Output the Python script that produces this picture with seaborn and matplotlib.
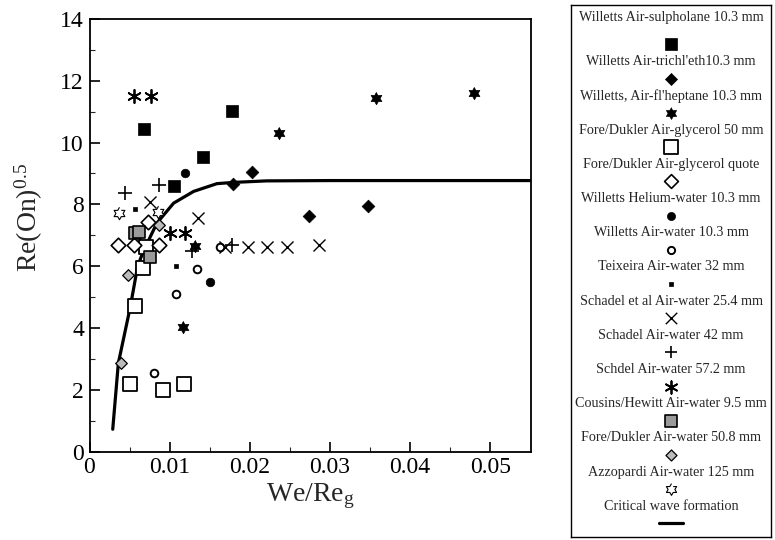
import matplotlib
matplotlib.use("Agg")
import matplotlib.pyplot as plt
import seaborn as sns
import pandas as pd
import numpy as np

# ---------------- data ----------------
sulph_x = [0.0068, 0.0106, 0.0142, 0.0178]
sulph_y = [10.44, 8.58, 9.52, 11.02]

trich_x = [0.0179, 0.0203, 0.0274, 0.0348]
trich_y = [8.67, 9.06, 7.62, 7.95]

hept_x = [0.0117, 0.0132, 0.0236, 0.0357, 0.0480]
hept_y = [4.04, 6.65, 10.31, 11.45, 11.60]

glyc_x = [0.0051, 0.0092, 0.0118, 0.0057, 0.0067, 0.0071]
glyc_y = [2.18, 2.00, 2.18, 4.71, 5.93, 6.63]

glycq_x = [0.0036, 0.0055, 0.0073, 0.0087]
glycq_y = [6.68, 6.69, 7.44, 6.68]

helium_x = [0.0119, 0.0150]
helium_y = [9.01, 5.50]

airw_x = [0.0081, 0.0108, 0.0134, 0.0163]
airw_y = [2.53, 5.10, 5.90, 6.63]

teix_x = [0.0057, 0.0108]
teix_y = [7.85, 6.01]

sch25_x = [0.0076, 0.0135, 0.0169, 0.0198, 0.0221, 0.0246, 0.0286]
sch25_y = [8.09, 7.55, 6.62, 6.61, 6.61, 6.61, 6.69]

sch42_x = [0.0044, 0.0087, 0.0128, 0.0178]
sch42_y = [8.38, 8.64, 6.50, 6.69]

sch57_x = [0.0056, 0.0077, 0.0100, 0.0119]
sch57_y = [11.52, 11.52, 7.07, 7.07]

cous_x = [0.0057, 0.0062, 0.0076]
cous_y = [7.07, 7.10, 6.31]

fdw_x = [0.0039, 0.0048, 0.0087]
fdw_y = [2.86, 5.72, 7.34]

azz_x = [0.0037, 0.0086]
azz_y = [7.72, 7.75]

crit_x = [0.0029, 0.0036, 0.0051, 0.0060, 0.0067, 0.0084, 0.0105, 0.0130,
          0.0159, 0.0179, 0.0221, 0.0300, 0.0400, 0.0551]
crit_y = [0.72, 2.86, 4.69, 5.99, 6.47, 7.39, 8.04, 8.42,
          8.67, 8.71, 8.76, 8.77, 8.77, 8.77]

labels = [
    "Willetts Air-sulpholane 10.3 mm",
    "Willetts Air-trichl'eth10.3 mm",
    "Willetts, Air-fl'heptane 10.3 mm",
    "Fore/Dukler Air-glycerol 50 mm",
    "Fore/Dukler Air-glycerol quote",
    "Willetts Helium-water 10.3 mm",
    "Willetts Air-water 10.3 mm",
    "Teixeira Air-water 32 mm",
    "Schadel et al Air-water 25.4 mm",
    "Schadel Air-water 42 mm",
    "Schdel Air-water 57.2 mm",
    "Cousins/Hewitt Air-water 9.5 mm",
    "Fore/Dukler Air-water 50.8 mm",
    "Azzopardi Air-water 125 mm",
    "Critical wave formation",
]

series = [
    (sulph_x, sulph_y), (trich_x, trich_y), (hept_x, hept_y), (glyc_x, glyc_y),
    (glycq_x, glycq_y), (helium_x, helium_y), (airw_x, airw_y), (teix_x, teix_y),
    (sch25_x, sch25_y), (sch42_x, sch42_y), (sch57_x, sch57_y), (cous_x, cous_y),
    (fdw_x, fdw_y), (azz_x, azz_y),
]

# Star of David marker (two overlapping triangles)
_a = np.deg2rad(np.arange(0, 360, 30) + 90)
_r = np.where(np.arange(12) % 2 == 0, 1.0, 0.577)
hexagram = list(zip(_r * np.cos(_a), _r * np.sin(_a)))

# marker styles: (marker, size, facecolor, edgecolor, linewidth)
styles = [
    ("s", 85, "black", "black", 0.5),
    ("D", 42, "black", "black", 0.5),
    (hexagram, 80, "black", "black", 0.5),
    ("s", 110, "white", "black", 1.3),
    ("D", 55, "white", "black", 1.2),
    ("o", 38, "black", "black", 0.5),
    ("o", 30, "white", "black", 1.4),
    ("s", 10, "black", "black", 0.5),
    ("x", 75, "black", "black", 1.0),
    ("+", 95, "black", "black", 1.2),
    ((6, 2, 0), 90, "black", "black", 1.3),
    ("s", 75, "#9a9a9a", "black", 1.2),
    ("D", 35, "#bbbbbb", "black", 0.9),
    (hexagram, 80, "white", "black", 0.8),
]

# ---------------- style ----------------
sns.set_theme(style="ticks")
plt.rcParams["font.family"] = ["Liberation Serif", "DejaVu Serif"]
plt.rcParams["mathtext.fontset"] = "custom"
plt.rcParams["mathtext.rm"] = "Liberation Serif"
plt.rcParams["mathtext.it"] = "Liberation Serif:italic"

fig = plt.figure(figsize=(7.75, 5.4), dpi=100)
ax = fig.add_axes([89.5 / 775, 1 - 451.5 / 540, (531 - 89.5) / 775, (451.5 - 19) / 540])

for (xs, ys), (mk, sz, fc, ec, lw) in zip(series, styles):
    sns.scatterplot(x=xs, y=ys, ax=ax, marker=mk, s=sz, color=fc,
                    edgecolor=ec, linewidth=lw, zorder=3, legend=False)

sns.lineplot(x=crit_x, y=crit_y, ax=ax, color="black", linewidth=2.3,
             sort=False, estimator=None, zorder=2)

ax.set_xlim(0, 0.0551)
ax.set_ylim(0, 14)
ax.set_xticks([0, 0.01, 0.02, 0.03, 0.04, 0.05])
ax.set_xticklabels(["0", "0.01", "0.02", "0.03", "0.04", "0.05"])
ax.set_yticks(range(0, 15, 2))
ax.set_yticks(range(1, 14, 2), minor=True)
ax.set_xticks(np.arange(0.005, 0.055, 0.01), minor=True)
ax.tick_params(axis="both", which="major", direction="in", length=7, width=1.2,
               labelsize=17, pad=4, colors="black")
ax.tick_params(axis="both", which="minor", direction="in", length=3.5, width=0.8)
for sp in ax.spines.values():
    sp.set_visible(True)
    sp.set_linewidth(1.3)
    sp.set_color("black")

ax.set_xlabel(r"We/Re$_{\mathregular{g}}$", fontsize=20, labelpad=2)
ax.set_ylabel(r"Re(On)$^{0.5}$", fontsize=20)
ax.yaxis.set_label_coords(-0.10, 0.54)

# ---------------- legend panel ----------------
lax = fig.add_axes([571 / 775, 1 - 537 / 540, 200 / 775, 532 / 540])
lax.set_xlim(0, 1)
lax.set_ylim(537, 5)
lax.set_xticks([])
lax.set_yticks([])
for sp in lax.spines.values():
    sp.set_linewidth(1.0)
    sp.set_color("black")

step = 17.1
for i, lab in enumerate(labels):
    if i == 0:
        ty, my = 17, 44
    else:
        ty = 61.7 + (i - 1) * 2 * step
        my = ty + step
    lax.text(0.5, ty, lab, ha="center", va="center", fontsize=10.2)
    if i < len(styles):
        mk, sz, fc, ec, lw = styles[i]
        lax.scatter([0.5], [my], marker=mk, s=sz * 0.9, c=fc, edgecolors=ec,
                    linewidths=lw, clip_on=False)
    else:
        lax.plot([0.44, 0.56], [my, my], color="black", linewidth=2.3)

fig.savefig("out.png", dpi=100)
